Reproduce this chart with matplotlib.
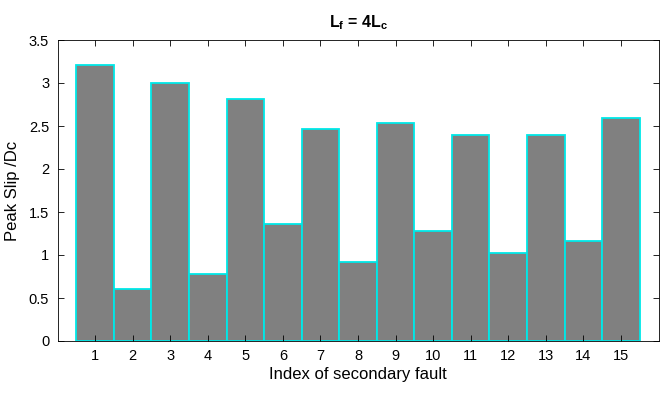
import matplotlib
matplotlib.use("Agg")
import matplotlib.pyplot as plt
import numpy as np

plt.rcParams['font.family'] = ['Liberation Sans', 'DejaVu Sans']
plt.rcParams['mathtext.fontset'] = 'custom'
plt.rcParams['mathtext.rm'] = 'Liberation Sans'
plt.rcParams['mathtext.bf'] = 'Liberation Sans:bold'

fault_idx = np.arange(1, 16)
peak_slip = [3.21, 0.61, 3.00, 0.78, 2.81, 1.36, 2.47, 0.92,
             2.53, 1.28, 2.39, 1.02, 2.40, 1.16, 2.59]

fig = plt.figure(figsize=(6.61, 3.97), dpi=100)
ax = fig.add_axes([57.5/661, 56/397, 601/661, 301/397])

ax.bar(fault_idx, peak_slip, width=1.0, color='#808080',
       edgecolor='#00e8e8', linewidth=1.3)

ax.set_xlim(0, 16)
ax.set_ylim(0, 3.5)
ax.set_xticks(fault_idx)
ax.set_yticks(np.arange(0, 3.51, 0.5))
ax.set_yticklabels(['0', '0.5', '1', '1.5', '2', '2.5', '3', '3.5'])
ax.tick_params(direction='in', length=4, width=0.6, top=True, right=True,
               labelsize=10.5, pad=6)
for s in ax.spines.values():
    s.set_linewidth(0.6)

ax.set_xlabel('Index of secondary fault', fontsize=12, labelpad=3)
ax.set_ylabel('Peak Slip /Dc', fontsize=12, labelpad=6)
ax.set_title(r'$\mathbf{L_f}$ = 4$\mathbf{L_c}$', fontsize=11.5, fontweight='bold', pad=9)

fig.savefig('out.png', dpi=100)
